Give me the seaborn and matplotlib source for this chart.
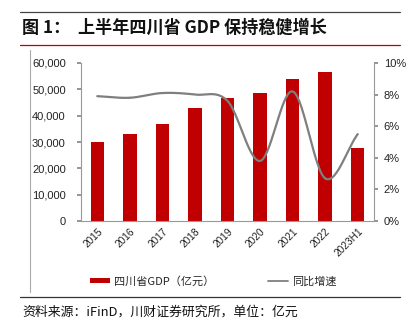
import numpy as np
import pandas as pd
import matplotlib
matplotlib.use("Agg")
import matplotlib.pyplot as plt
import seaborn as sns
from matplotlib.lines import Line2D
from matplotlib.patches import Patch

years = ["2015", "2016", "2017", "2018", "2019", "2020", "2021", "2022", "2023H1"]
gdp = [30053, 32935, 36980, 42902, 46616, 48599, 53851, 56750, 27880]
growth = [7.9, 7.8, 8.1, 8.0, 7.6, 3.8, 8.2, 2.7, 5.5]
left_ticks = [0, 10000, 20000, 30000, 40000, 50000, 60000]
right_ticks = [0, 2, 4, 6, 8, 10]

sns.set_theme(style="white")
plt.rcParams['font.family'] = ['Liberation Sans', 'Noto Sans CJK SC', 'DejaVu Sans']

W, H = 412, 335
fig = plt.figure(figsize=(W / 100, H / 100), dpi=100)

def fx(px):
    return px / W

def fy(py):
    return 1 - py / H

# axes area: x 81..374, y 63..221
ax = fig.add_axes([fx(81), fy(221), fx(374 - 81), (221 - 63) / H])
df = pd.DataFrame({"year": years, "gdp": gdp})
red = "#C00000"
sns.barplot(data=df, x="year", y="gdp", color=red, width=0.41, ax=ax,
            saturation=1, edgecolor="none")
ax.set_ylim(0, 60000)
ax.set_xlim(-0.5, len(years) - 0.5)
ax.set_yticks(left_ticks)
ax.set_yticklabels([f"{v:,}" for v in left_ticks], fontsize=8, color="#222222")
ax.set_xlabel("")
ax.set_ylabel("")
ax.set_xticks(range(len(years)))
ax.set_xticklabels(years, rotation=45, fontsize=7.3, color="#222222",
                   ha="right", rotation_mode="anchor")
ax.tick_params(axis="x", length=0, pad=4)
# boundary tick marks
ax.set_xticks(np.arange(-0.5, len(years), 1), minor=True)
ax.tick_params(axis="x", which="minor", length=3, color="#888888", direction="out")
ax.tick_params(axis="y", length=3, color="#888888", direction="out", pad=8)

for s in ["top", "right"]:
    ax.spines[s].set_visible(False)
for s in ["left", "bottom"]:
    ax.spines[s].set_color("#999999")
    ax.spines[s].set_linewidth(0.8)

ax2 = ax.twinx()
# smoothed (Catmull-Rom) rendering of the growth series
xs = np.arange(len(growth), dtype=float)
ys = np.array(growth, dtype=float)
P = np.column_stack([xs, ys])
Pext = np.vstack([2 * P[0] - P[1], P, 2 * P[-1] - P[-2]])
cx, cy = [], []
for i in range(1, len(Pext) - 2):
    p0, p1, p2, p3 = Pext[i - 1], Pext[i], Pext[i + 1], Pext[i + 2]
    t = np.linspace(0, 1, 30)[:, None]
    seg = 0.5 * ((2 * p1) + (-p0 + p2) * t + (2 * p0 - 5 * p1 + 4 * p2 - p3) * t ** 2
                 + (-p0 + 3 * p1 - 3 * p2 + p3) * t ** 3)
    cx.extend(seg[:, 0]); cy.extend(seg[:, 1])
ax2.plot(cx, cy, color="#7F7F7F", linewidth=1.6, solid_capstyle="round")
ax2.set_ylim(0, 10)
ax2.set_yticks(right_ticks)
ax2.set_yticklabels([f"{v}%" for v in right_ticks], fontsize=8, color="#222222")
ax2.tick_params(axis="y", length=3, color="#888888", direction="out", pad=4)
for s in ["top", "left", "bottom"]:
    ax2.spines[s].set_visible(False)
ax2.spines["right"].set_color("#999999")
ax2.spines["right"].set_linewidth(0.8)
ax2.grid(False)
ax.grid(False)

# title and decorations
fig.add_artist(Line2D([fx(20), fx(400)], [fy(12), fy(12)], color="#444444", lw=0.9))
fig.add_artist(Line2D([fx(20), fx(400)], [fy(45), fy(45)], color="#C00000", lw=0.9))
fig.add_artist(Line2D([fx(20), fx(400)], [fy(297), fy(297)], color="#333333", lw=0.9))
fig.add_artist(Line2D([fx(30), fx(30)], [fy(50), fy(292)], color="#AAAAAA", lw=0.8))
fig.text(fx(22), fy(28), "图 1：  上半年四川省 GDP 保持稳健增长", fontsize=12.3,
         fontweight="bold", va="center", ha="left",
         family=['Noto Sans CJK SC', 'DejaVu Sans'], color="#111111")

handles = [Patch(facecolor=red, edgecolor="none"),
           Line2D([0], [0], color="#7F7F7F", lw=1.3)]
fig.legend(handles, ["四川省GDP（亿元）", "同比增速"], loc="center",
           bbox_to_anchor=(fx(213), fy(281)), ncol=2, frameon=False,
           prop={"family": ['Noto Sans CJK SC', 'DejaVu Sans'], "size": 8},
           handlelength=1.8, handleheight=0.4, columnspacing=4.8, handletextpad=0.4)

fig.text(fx(22), fy(312), "资料来源：iFinD，川财证券研究所，单位：亿元", fontsize=9.3,
         style="italic", va="center", ha="left",
         family=['Noto Sans CJK SC', 'DejaVu Sans'], color="#111111")

fig.savefig("out.png", dpi=100)
